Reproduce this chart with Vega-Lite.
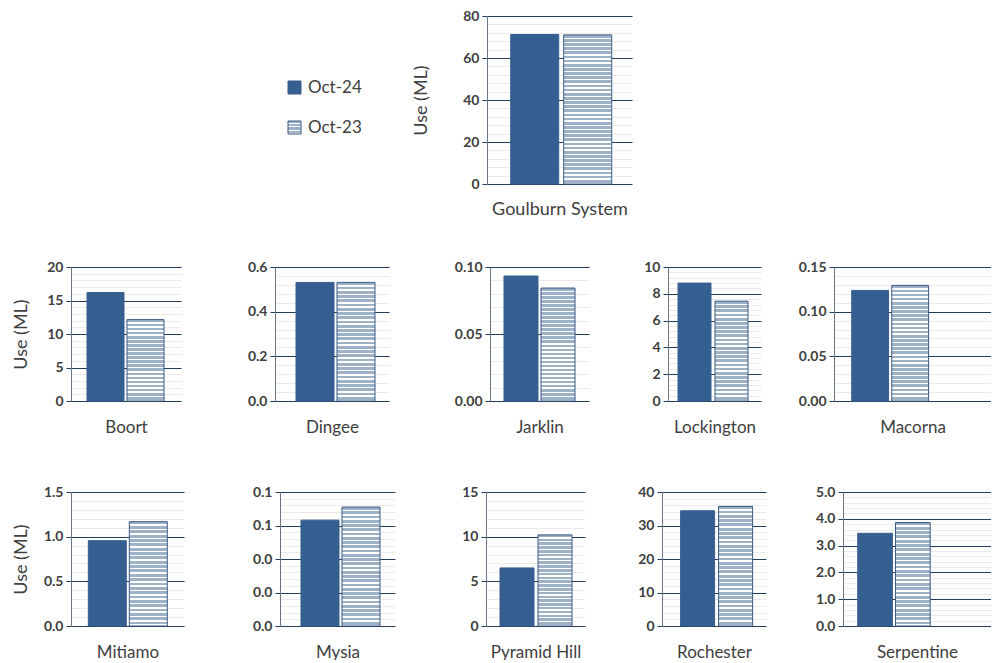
{
"$schema": "https://vega.github.io/schema/vega-lite/v6.json",
"padding": {"left": 12, "top": 9, "right": 0, "bottom": 0},
"background": "white",
"params": [
{"name": "g4", "value": {"gradient": "linear", "x1": 0, "y1": 0, "x2": 0, "y2": 1, "stops": [
{"offset":0,"color":"#9db1c7"},{"offset":0.1625,"color":"#9db1c7"},{"offset":0.1625,"color":"#fff"},{"offset":0.25,"color":"#fff"},
{"offset":0.25,"color":"#9db1c7"},{"offset":0.4125,"color":"#9db1c7"},{"offset":0.4125,"color":"#fff"},{"offset":0.5,"color":"#fff"},
{"offset":0.5,"color":"#9db1c7"},{"offset":0.6625,"color":"#9db1c7"},{"offset":0.6625,"color":"#fff"},{"offset":0.75,"color":"#fff"},
{"offset":0.75,"color":"#9db1c7"},{"offset":0.9125,"color":"#9db1c7"},{"offset":0.9125,"color":"#fff"},{"offset":1,"color":"#fff"}]}},
{"name": "g20", "value": {"gradient": "linear", "x1": 0, "y1": 0, "x2": 0, "y2": 1, "stops": [
{"offset":0,"color":"#9db1c7"},{"offset":0.0325,"color":"#9db1c7"},{"offset":0.0325,"color":"#fff"},{"offset":0.05,"color":"#fff"},
{"offset":0.05,"color":"#9db1c7"},{"offset":0.0825,"color":"#9db1c7"},{"offset":0.0825,"color":"#fff"},{"offset":0.1,"color":"#fff"},
{"offset":0.1,"color":"#9db1c7"},{"offset":0.1325,"color":"#9db1c7"},{"offset":0.1325,"color":"#fff"},{"offset":0.15,"color":"#fff"},
{"offset":0.15,"color":"#9db1c7"},{"offset":0.1825,"color":"#9db1c7"},{"offset":0.1825,"color":"#fff"},{"offset":0.2,"color":"#fff"},
{"offset":0.2,"color":"#9db1c7"},{"offset":0.2325,"color":"#9db1c7"},{"offset":0.2325,"color":"#fff"},{"offset":0.25,"color":"#fff"},
{"offset":0.25,"color":"#9db1c7"},{"offset":0.2825,"color":"#9db1c7"},{"offset":0.2825,"color":"#fff"},{"offset":0.3,"color":"#fff"},
{"offset":0.3,"color":"#9db1c7"},{"offset":0.3325,"color":"#9db1c7"},{"offset":0.3325,"color":"#fff"},{"offset":0.35,"color":"#fff"},
{"offset":0.35,"color":"#9db1c7"},{"offset":0.3825,"color":"#9db1c7"},{"offset":0.3825,"color":"#fff"},{"offset":0.4,"color":"#fff"},
{"offset":0.4,"color":"#9db1c7"},{"offset":0.4325,"color":"#9db1c7"},{"offset":0.4325,"color":"#fff"},{"offset":0.45,"color":"#fff"},
{"offset":0.45,"color":"#9db1c7"},{"offset":0.4825,"color":"#9db1c7"},{"offset":0.4825,"color":"#fff"},{"offset":0.5,"color":"#fff"},
{"offset":0.5,"color":"#9db1c7"},{"offset":0.5325,"color":"#9db1c7"},{"offset":0.5325,"color":"#fff"},{"offset":0.55,"color":"#fff"},
{"offset":0.55,"color":"#9db1c7"},{"offset":0.5825,"color":"#9db1c7"},{"offset":0.5825,"color":"#fff"},{"offset":0.6,"color":"#fff"},
{"offset":0.6,"color":"#9db1c7"},{"offset":0.6325,"color":"#9db1c7"},{"offset":0.6325,"color":"#fff"},{"offset":0.65,"color":"#fff"},
{"offset":0.65,"color":"#9db1c7"},{"offset":0.6825,"color":"#9db1c7"},{"offset":0.6825,"color":"#fff"},{"offset":0.7,"color":"#fff"},
{"offset":0.7,"color":"#9db1c7"},{"offset":0.7325,"color":"#9db1c7"},{"offset":0.7325,"color":"#fff"},{"offset":0.75,"color":"#fff"},
{"offset":0.75,"color":"#9db1c7"},{"offset":0.7825,"color":"#9db1c7"},{"offset":0.7825,"color":"#fff"},{"offset":0.8,"color":"#fff"},
{"offset":0.8,"color":"#9db1c7"},{"offset":0.8325,"color":"#9db1c7"},{"offset":0.8325,"color":"#fff"},{"offset":0.85,"color":"#fff"},
{"offset":0.85,"color":"#9db1c7"},{"offset":0.8825,"color":"#9db1c7"},{"offset":0.8825,"color":"#fff"},{"offset":0.9,"color":"#fff"},
{"offset":0.9,"color":"#9db1c7"},{"offset":0.9325,"color":"#9db1c7"},{"offset":0.9325,"color":"#fff"},{"offset":0.95,"color":"#fff"},
{"offset":0.95,"color":"#9db1c7"},{"offset":0.9825,"color":"#9db1c7"},{"offset":0.9825,"color":"#fff"},{"offset":1,"color":"#fff"}]}},
{"name": "g24", "value": {"gradient": "linear", "x1": 0, "y1": 0, "x2": 0, "y2": 1, "stops": [
{"offset":0,"color":"#9db1c7"},{"offset":0.02708,"color":"#9db1c7"},{"offset":0.02708,"color":"#fff"},{"offset":0.04167,"color":"#fff"},
{"offset":0.04167,"color":"#9db1c7"},{"offset":0.06875,"color":"#9db1c7"},{"offset":0.06875,"color":"#fff"},{"offset":0.08333,"color":"#fff"},
{"offset":0.08333,"color":"#9db1c7"},{"offset":0.11042,"color":"#9db1c7"},{"offset":0.11042,"color":"#fff"},{"offset":0.125,"color":"#fff"},
{"offset":0.125,"color":"#9db1c7"},{"offset":0.15208,"color":"#9db1c7"},{"offset":0.15208,"color":"#fff"},{"offset":0.16667,"color":"#fff"},
{"offset":0.16667,"color":"#9db1c7"},{"offset":0.19375,"color":"#9db1c7"},{"offset":0.19375,"color":"#fff"},{"offset":0.20833,"color":"#fff"},
{"offset":0.20833,"color":"#9db1c7"},{"offset":0.23542,"color":"#9db1c7"},{"offset":0.23542,"color":"#fff"},{"offset":0.25,"color":"#fff"},
{"offset":0.25,"color":"#9db1c7"},{"offset":0.27708,"color":"#9db1c7"},{"offset":0.27708,"color":"#fff"},{"offset":0.29167,"color":"#fff"},
{"offset":0.29167,"color":"#9db1c7"},{"offset":0.31875,"color":"#9db1c7"},{"offset":0.31875,"color":"#fff"},{"offset":0.33333,"color":"#fff"},
{"offset":0.33333,"color":"#9db1c7"},{"offset":0.36042,"color":"#9db1c7"},{"offset":0.36042,"color":"#fff"},{"offset":0.375,"color":"#fff"},
{"offset":0.375,"color":"#9db1c7"},{"offset":0.40208,"color":"#9db1c7"},{"offset":0.40208,"color":"#fff"},{"offset":0.41667,"color":"#fff"},
{"offset":0.41667,"color":"#9db1c7"},{"offset":0.44375,"color":"#9db1c7"},{"offset":0.44375,"color":"#fff"},{"offset":0.45833,"color":"#fff"},
{"offset":0.45833,"color":"#9db1c7"},{"offset":0.48542,"color":"#9db1c7"},{"offset":0.48542,"color":"#fff"},{"offset":0.5,"color":"#fff"},
{"offset":0.5,"color":"#9db1c7"},{"offset":0.52708,"color":"#9db1c7"},{"offset":0.52708,"color":"#fff"},{"offset":0.54167,"color":"#fff"},
{"offset":0.54167,"color":"#9db1c7"},{"offset":0.56875,"color":"#9db1c7"},{"offset":0.56875,"color":"#fff"},{"offset":0.58333,"color":"#fff"},
{"offset":0.58333,"color":"#9db1c7"},{"offset":0.61042,"color":"#9db1c7"},{"offset":0.61042,"color":"#fff"},{"offset":0.625,"color":"#fff"},
{"offset":0.625,"color":"#9db1c7"},{"offset":0.65208,"color":"#9db1c7"},{"offset":0.65208,"color":"#fff"},{"offset":0.66667,"color":"#fff"},
{"offset":0.66667,"color":"#9db1c7"},{"offset":0.69375,"color":"#9db1c7"},{"offset":0.69375,"color":"#fff"},{"offset":0.70833,"color":"#fff"},
{"offset":0.70833,"color":"#9db1c7"},{"offset":0.73542,"color":"#9db1c7"},{"offset":0.73542,"color":"#fff"},{"offset":0.75,"color":"#fff"},
{"offset":0.75,"color":"#9db1c7"},{"offset":0.77708,"color":"#9db1c7"},{"offset":0.77708,"color":"#fff"},{"offset":0.79167,"color":"#fff"},
{"offset":0.79167,"color":"#9db1c7"},{"offset":0.81875,"color":"#9db1c7"},{"offset":0.81875,"color":"#fff"},{"offset":0.83333,"color":"#fff"},
{"offset":0.83333,"color":"#9db1c7"},{"offset":0.86042,"color":"#9db1c7"},{"offset":0.86042,"color":"#fff"},{"offset":0.875,"color":"#fff"},
{"offset":0.875,"color":"#9db1c7"},{"offset":0.90208,"color":"#9db1c7"},{"offset":0.90208,"color":"#fff"},{"offset":0.91667,"color":"#fff"},
{"offset":0.91667,"color":"#9db1c7"},{"offset":0.94375,"color":"#9db1c7"},{"offset":0.94375,"color":"#fff"},{"offset":0.95833,"color":"#fff"},
{"offset":0.95833,"color":"#9db1c7"},{"offset":0.98542,"color":"#9db1c7"},{"offset":0.98542,"color":"#fff"},{"offset":1,"color":"#fff"}]}},
{"name": "g28", "value": {"gradient": "linear", "x1": 0, "y1": 0, "x2": 0, "y2": 1, "stops": [
{"offset":0,"color":"#9db1c7"},{"offset":0.02321,"color":"#9db1c7"},{"offset":0.02321,"color":"#fff"},{"offset":0.03571,"color":"#fff"},
{"offset":0.03571,"color":"#9db1c7"},{"offset":0.05893,"color":"#9db1c7"},{"offset":0.05893,"color":"#fff"},{"offset":0.07143,"color":"#fff"},
{"offset":0.07143,"color":"#9db1c7"},{"offset":0.09464,"color":"#9db1c7"},{"offset":0.09464,"color":"#fff"},{"offset":0.10714,"color":"#fff"},
{"offset":0.10714,"color":"#9db1c7"},{"offset":0.13036,"color":"#9db1c7"},{"offset":0.13036,"color":"#fff"},{"offset":0.14286,"color":"#fff"},
{"offset":0.14286,"color":"#9db1c7"},{"offset":0.16607,"color":"#9db1c7"},{"offset":0.16607,"color":"#fff"},{"offset":0.17857,"color":"#fff"},
{"offset":0.17857,"color":"#9db1c7"},{"offset":0.20179,"color":"#9db1c7"},{"offset":0.20179,"color":"#fff"},{"offset":0.21429,"color":"#fff"},
{"offset":0.21429,"color":"#9db1c7"},{"offset":0.2375,"color":"#9db1c7"},{"offset":0.2375,"color":"#fff"},{"offset":0.25,"color":"#fff"},
{"offset":0.25,"color":"#9db1c7"},{"offset":0.27321,"color":"#9db1c7"},{"offset":0.27321,"color":"#fff"},{"offset":0.28571,"color":"#fff"},
{"offset":0.28571,"color":"#9db1c7"},{"offset":0.30893,"color":"#9db1c7"},{"offset":0.30893,"color":"#fff"},{"offset":0.32143,"color":"#fff"},
{"offset":0.32143,"color":"#9db1c7"},{"offset":0.34464,"color":"#9db1c7"},{"offset":0.34464,"color":"#fff"},{"offset":0.35714,"color":"#fff"},
{"offset":0.35714,"color":"#9db1c7"},{"offset":0.38036,"color":"#9db1c7"},{"offset":0.38036,"color":"#fff"},{"offset":0.39286,"color":"#fff"},
{"offset":0.39286,"color":"#9db1c7"},{"offset":0.41607,"color":"#9db1c7"},{"offset":0.41607,"color":"#fff"},{"offset":0.42857,"color":"#fff"},
{"offset":0.42857,"color":"#9db1c7"},{"offset":0.45179,"color":"#9db1c7"},{"offset":0.45179,"color":"#fff"},{"offset":0.46429,"color":"#fff"},
{"offset":0.46429,"color":"#9db1c7"},{"offset":0.4875,"color":"#9db1c7"},{"offset":0.4875,"color":"#fff"},{"offset":0.5,"color":"#fff"},
{"offset":0.5,"color":"#9db1c7"},{"offset":0.52321,"color":"#9db1c7"},{"offset":0.52321,"color":"#fff"},{"offset":0.53571,"color":"#fff"},
{"offset":0.53571,"color":"#9db1c7"},{"offset":0.55893,"color":"#9db1c7"},{"offset":0.55893,"color":"#fff"},{"offset":0.57143,"color":"#fff"},
{"offset":0.57143,"color":"#9db1c7"},{"offset":0.59464,"color":"#9db1c7"},{"offset":0.59464,"color":"#fff"},{"offset":0.60714,"color":"#fff"},
{"offset":0.60714,"color":"#9db1c7"},{"offset":0.63036,"color":"#9db1c7"},{"offset":0.63036,"color":"#fff"},{"offset":0.64286,"color":"#fff"},
{"offset":0.64286,"color":"#9db1c7"},{"offset":0.66607,"color":"#9db1c7"},{"offset":0.66607,"color":"#fff"},{"offset":0.67857,"color":"#fff"},
{"offset":0.67857,"color":"#9db1c7"},{"offset":0.70179,"color":"#9db1c7"},{"offset":0.70179,"color":"#fff"},{"offset":0.71429,"color":"#fff"},
{"offset":0.71429,"color":"#9db1c7"},{"offset":0.7375,"color":"#9db1c7"},{"offset":0.7375,"color":"#fff"},{"offset":0.75,"color":"#fff"},
{"offset":0.75,"color":"#9db1c7"},{"offset":0.77321,"color":"#9db1c7"},{"offset":0.77321,"color":"#fff"},{"offset":0.78571,"color":"#fff"},
{"offset":0.78571,"color":"#9db1c7"},{"offset":0.80893,"color":"#9db1c7"},{"offset":0.80893,"color":"#fff"},{"offset":0.82143,"color":"#fff"},
{"offset":0.82143,"color":"#9db1c7"},{"offset":0.84464,"color":"#9db1c7"},{"offset":0.84464,"color":"#fff"},{"offset":0.85714,"color":"#fff"},
{"offset":0.85714,"color":"#9db1c7"},{"offset":0.88036,"color":"#9db1c7"},{"offset":0.88036,"color":"#fff"},{"offset":0.89286,"color":"#fff"},
{"offset":0.89286,"color":"#9db1c7"},{"offset":0.91607,"color":"#9db1c7"},{"offset":0.91607,"color":"#fff"},{"offset":0.92857,"color":"#fff"},
{"offset":0.92857,"color":"#9db1c7"},{"offset":0.95179,"color":"#9db1c7"},{"offset":0.95179,"color":"#fff"},{"offset":0.96429,"color":"#fff"},
{"offset":0.96429,"color":"#9db1c7"},{"offset":0.9875,"color":"#9db1c7"},{"offset":0.9875,"color":"#fff"},{"offset":1,"color":"#fff"}]}},
{"name": "g36", "value": {"gradient": "linear", "x1": 0, "y1": 0, "x2": 0, "y2": 1, "stops": [
{"offset":0,"color":"#9db1c7"},{"offset":0.01806,"color":"#9db1c7"},{"offset":0.01806,"color":"#fff"},{"offset":0.02778,"color":"#fff"},
{"offset":0.02778,"color":"#9db1c7"},{"offset":0.04583,"color":"#9db1c7"},{"offset":0.04583,"color":"#fff"},{"offset":0.05556,"color":"#fff"},
{"offset":0.05556,"color":"#9db1c7"},{"offset":0.07361,"color":"#9db1c7"},{"offset":0.07361,"color":"#fff"},{"offset":0.08333,"color":"#fff"},
{"offset":0.08333,"color":"#9db1c7"},{"offset":0.10139,"color":"#9db1c7"},{"offset":0.10139,"color":"#fff"},{"offset":0.11111,"color":"#fff"},
{"offset":0.11111,"color":"#9db1c7"},{"offset":0.12917,"color":"#9db1c7"},{"offset":0.12917,"color":"#fff"},{"offset":0.13889,"color":"#fff"},
{"offset":0.13889,"color":"#9db1c7"},{"offset":0.15694,"color":"#9db1c7"},{"offset":0.15694,"color":"#fff"},{"offset":0.16667,"color":"#fff"},
{"offset":0.16667,"color":"#9db1c7"},{"offset":0.18472,"color":"#9db1c7"},{"offset":0.18472,"color":"#fff"},{"offset":0.19444,"color":"#fff"},
{"offset":0.19444,"color":"#9db1c7"},{"offset":0.2125,"color":"#9db1c7"},{"offset":0.2125,"color":"#fff"},{"offset":0.22222,"color":"#fff"},
{"offset":0.22222,"color":"#9db1c7"},{"offset":0.24028,"color":"#9db1c7"},{"offset":0.24028,"color":"#fff"},{"offset":0.25,"color":"#fff"},
{"offset":0.25,"color":"#9db1c7"},{"offset":0.26806,"color":"#9db1c7"},{"offset":0.26806,"color":"#fff"},{"offset":0.27778,"color":"#fff"},
{"offset":0.27778,"color":"#9db1c7"},{"offset":0.29583,"color":"#9db1c7"},{"offset":0.29583,"color":"#fff"},{"offset":0.30556,"color":"#fff"},
{"offset":0.30556,"color":"#9db1c7"},{"offset":0.32361,"color":"#9db1c7"},{"offset":0.32361,"color":"#fff"},{"offset":0.33333,"color":"#fff"},
{"offset":0.33333,"color":"#9db1c7"},{"offset":0.35139,"color":"#9db1c7"},{"offset":0.35139,"color":"#fff"},{"offset":0.36111,"color":"#fff"},
{"offset":0.36111,"color":"#9db1c7"},{"offset":0.37917,"color":"#9db1c7"},{"offset":0.37917,"color":"#fff"},{"offset":0.38889,"color":"#fff"},
{"offset":0.38889,"color":"#9db1c7"},{"offset":0.40694,"color":"#9db1c7"},{"offset":0.40694,"color":"#fff"},{"offset":0.41667,"color":"#fff"},
{"offset":0.41667,"color":"#9db1c7"},{"offset":0.43472,"color":"#9db1c7"},{"offset":0.43472,"color":"#fff"},{"offset":0.44444,"color":"#fff"},
{"offset":0.44444,"color":"#9db1c7"},{"offset":0.4625,"color":"#9db1c7"},{"offset":0.4625,"color":"#fff"},{"offset":0.47222,"color":"#fff"},
{"offset":0.47222,"color":"#9db1c7"},{"offset":0.49028,"color":"#9db1c7"},{"offset":0.49028,"color":"#fff"},{"offset":0.5,"color":"#fff"},
{"offset":0.5,"color":"#9db1c7"},{"offset":0.51806,"color":"#9db1c7"},{"offset":0.51806,"color":"#fff"},{"offset":0.52778,"color":"#fff"},
{"offset":0.52778,"color":"#9db1c7"},{"offset":0.54583,"color":"#9db1c7"},{"offset":0.54583,"color":"#fff"},{"offset":0.55556,"color":"#fff"},
{"offset":0.55556,"color":"#9db1c7"},{"offset":0.57361,"color":"#9db1c7"},{"offset":0.57361,"color":"#fff"},{"offset":0.58333,"color":"#fff"},
{"offset":0.58333,"color":"#9db1c7"},{"offset":0.60139,"color":"#9db1c7"},{"offset":0.60139,"color":"#fff"},{"offset":0.61111,"color":"#fff"},
{"offset":0.61111,"color":"#9db1c7"},{"offset":0.62917,"color":"#9db1c7"},{"offset":0.62917,"color":"#fff"},{"offset":0.63889,"color":"#fff"},
{"offset":0.63889,"color":"#9db1c7"},{"offset":0.65694,"color":"#9db1c7"},{"offset":0.65694,"color":"#fff"},{"offset":0.66667,"color":"#fff"},
{"offset":0.66667,"color":"#9db1c7"},{"offset":0.68472,"color":"#9db1c7"},{"offset":0.68472,"color":"#fff"},{"offset":0.69444,"color":"#fff"},
{"offset":0.69444,"color":"#9db1c7"},{"offset":0.7125,"color":"#9db1c7"},{"offset":0.7125,"color":"#fff"},{"offset":0.72222,"color":"#fff"},
{"offset":0.72222,"color":"#9db1c7"},{"offset":0.74028,"color":"#9db1c7"},{"offset":0.74028,"color":"#fff"},{"offset":0.75,"color":"#fff"},
{"offset":0.75,"color":"#9db1c7"},{"offset":0.76806,"color":"#9db1c7"},{"offset":0.76806,"color":"#fff"},{"offset":0.77778,"color":"#fff"},
{"offset":0.77778,"color":"#9db1c7"},{"offset":0.79583,"color":"#9db1c7"},{"offset":0.79583,"color":"#fff"},{"offset":0.80556,"color":"#fff"},
{"offset":0.80556,"color":"#9db1c7"},{"offset":0.82361,"color":"#9db1c7"},{"offset":0.82361,"color":"#fff"},{"offset":0.83333,"color":"#fff"},
{"offset":0.83333,"color":"#9db1c7"},{"offset":0.85139,"color":"#9db1c7"},{"offset":0.85139,"color":"#fff"},{"offset":0.86111,"color":"#fff"},
{"offset":0.86111,"color":"#9db1c7"},{"offset":0.87917,"color":"#9db1c7"},{"offset":0.87917,"color":"#fff"},{"offset":0.88889,"color":"#fff"},
{"offset":0.88889,"color":"#9db1c7"},{"offset":0.90694,"color":"#9db1c7"},{"offset":0.90694,"color":"#fff"},{"offset":0.91667,"color":"#fff"},
{"offset":0.91667,"color":"#9db1c7"},{"offset":0.93472,"color":"#9db1c7"},{"offset":0.93472,"color":"#fff"},{"offset":0.94444,"color":"#fff"},
{"offset":0.94444,"color":"#9db1c7"},{"offset":0.9625,"color":"#9db1c7"},{"offset":0.9625,"color":"#fff"},{"offset":0.97222,"color":"#fff"},
{"offset":0.97222,"color":"#9db1c7"},{"offset":0.99028,"color":"#9db1c7"},{"offset":0.99028,"color":"#fff"},{"offset":1,"color":"#fff"}]}}
],
"datasets": {"use": [
{"Region":"Goulburn System","Year":"Oct-24","Use":71.2},{"Region":"Goulburn System","Year":"Oct-23","Use":71.0},
{"Region":"Boort","Year":"Oct-24","Use":16.2},{"Region":"Boort","Year":"Oct-23","Use":12.15},
{"Region":"Dingee","Year":"Oct-24","Use":0.531},{"Region":"Dingee","Year":"Oct-23","Use":0.531},
{"Region":"Jarklin","Year":"Oct-24","Use":0.0933},{"Region":"Jarklin","Year":"Oct-23","Use":0.0843},
{"Region":"Lockington","Year":"Oct-24","Use":8.8},{"Region":"Lockington","Year":"Oct-23","Use":7.45},
{"Region":"Macorna","Year":"Oct-24","Use":0.1238},{"Region":"Macorna","Year":"Oct-23","Use":0.1294},
{"Region":"Mitiamo","Year":"Oct-24","Use":0.955},{"Region":"Mitiamo","Year":"Oct-23","Use":1.168},
{"Region":"Mysia","Year":"Oct-24","Use":0.0632},{"Region":"Mysia","Year":"Oct-23","Use":0.071},
{"Region":"Pyramid Hill","Year":"Oct-24","Use":6.5},{"Region":"Pyramid Hill","Year":"Oct-23","Use":10.2},
{"Region":"Rochester","Year":"Oct-24","Use":34.4},{"Region":"Rochester","Year":"Oct-23","Use":35.7},
{"Region":"Serpentine","Year":"Oct-24","Use":3.46},{"Region":"Serpentine","Year":"Oct-23","Use":3.86}
]},
"config": {
"view": {"stroke": null},
"font": "Lato",
"axis": {"labelFont": "Lato", "titleFont": "Lato", "titleFontWeight": "normal", "titleColor": "#404040", "labelColor": "#404040"},
"axisY": {"labelFontSize": 14, "labelFontWeight": "bold", "labelPadding": 3, "tickSize": 5, "tickCount": 100, "domainColor": "#6b7785", "titleFontSize": 18, "labelOverlap": false, "gridWidth": 1},
"axisX": {"labels": false, "ticks": false, "domain": false, "grid": false, "titleFontSize": 17, "titlePadding": 18}
},
"spacing": 42,
"vconcat": [
{"hconcat": [
 {"width": 341, "height": 168,
  "data": {"name": "use"},
  "transform": [{"filter": "datum.Region === 'none'"}],
  "mark": {"type": "square", "opacity": 1},
  "encoding": {"fill": {"field": "Year", "type": "nominal",
    "scale": {"domain": ["Oct-24", "Oct-23"], "range": ["#365F91", {"expr": "g4"}]},
    "legend": {"orient": "none", "legendX": 215, "legendY": 63, "title": null, "padding": 0,
      "symbolType": "square", "symbolSize": 169, "symbolStrokeWidth": 1, "symbolStrokeColor": "#3B5B82", "symbolOpacity": 1,
      "labelFontSize": 17, "labelFont": "Lato", "labelColor": "#404040",
      "labelOffset": 5, "rowPadding": 22}}}
 },
 {"width": 145, "height": 168,
  "data": {"name": "use"},
  "transform": [{"filter": "datum.Region === 'Goulburn System'"}],
  "mark": {"type": "bar", "fill": {"expr": "datum.Year === 'Oct-23' ? g36 : '#365F91'"}, "stroke": {"expr": "datum.Year === 'Oct-23' ? '#3B5B82' : '#365F91'"}, "strokeWidth": 1},
  "encoding": {
   "x": {"field": "Year", "type": "nominal", "sort": ["Oct-24", "Oct-23"], "scale": {"paddingInner": 0.0943, "paddingOuter": 0.415, "align": 0.539}, "axis": {"title": "Goulburn System", "titlePadding": 16, "titleFontSize": 18}},
   "y": {"field": "Use", "type": "quantitative", "scale": {"domain": [0, 80], "nice": false},
    "axis": {"title": "Use  (ML)", "titlePadding": 12, "minExtent": 45, "format": "d",
     "values": [0,4,8,12,16,20,24,28,32,36,40,44,48,52,56,60,64,68,72,76,80],
     "labelExpr": "indexof([0,20,40,60,80], datum.value) >= 0 ? datum.label : ''",
     "gridColor": {"condition": {"test": "indexof([0,20,40,60,80], datum.value) >= 0", "value": "#253d5c"}, "value": "#ebebeb"},
     "tickColor": {"condition": {"test": "indexof([0,20,40,60,80], datum.value) >= 0", "value": "#253d5c"}, "value": "transparent"}}}
  }
 }
], "spacing": 0, "resolve": {"scale": {"fill": "independent"}, "legend": {"fill": "independent"}}},
{"spacing": 50, "vconcat": [
{"spacing": 0, "hconcat": [
 {"width": 110, "height": 134, "data": {"name": "use"}, "transform": [{"filter": "datum.Region === 'Boort'"}],
  "mark": {"type": "bar", "fill": {"expr": "datum.Year === 'Oct-23' ? g20 : '#365F91'"}, "stroke": {"expr": "datum.Year === 'Oct-23' ? '#3B5B82' : '#365F91'"}, "strokeWidth": 1},
  "encoding": {
   "x": {"field": "Year", "type": "nominal", "sort": ["Oct-24", "Oct-23"], "scale": {"paddingInner": 0.075, "paddingOuter": 0.4125, "align": 0.485}, "axis": {"title": "Boort"}},
   "y": {"field": "Use", "type": "quantitative", "scale": {"domain": [0, 20], "nice": false},
    "axis": {"title": "Use (ML)", "titlePadding": 6, "minExtent": 35, "format": "d",
     "values": [0,1,2,3,4,5,6,7,8,9,10,11,12,13,14,15,16,17,18,19,20],
     "labelExpr": "indexof([0,5,10,15,20], datum.value) >= 0 ? datum.label : ''",
     "gridColor": {"condition": {"test": "indexof([0,5,10,15,20], datum.value) >= 0", "value": "#253d5c"}, "value": "#ebebeb"},
     "tickColor": {"condition": {"test": "indexof([0,5,10,15,20], datum.value) >= 0", "value": "#253d5c"}, "value": "transparent"}}}}},
 {"width": 114, "height": 134, "data": {"name": "use"}, "transform": [{"filter": "datum.Region === 'Dingee'"}],
  "mark": {"type": "bar", "fill": {"expr": "datum.Year === 'Oct-23' ? g28 : '#365F91'"}, "stroke": {"expr": "datum.Year === 'Oct-23' ? '#3B5B82' : '#365F91'"}, "strokeWidth": 1},
  "encoding": {
   "x": {"field": "Year", "type": "nominal", "sort": ["Oct-24", "Oct-23"], "scale": {"paddingInner": 0.0732, "paddingOuter": 0.427, "align": 0.6}, "axis": {"title": "Dingee"}},
   "y": {"field": "Use", "type": "quantitative", "scale": {"domain": [0, 0.6], "nice": false},
    "axis": {"title": null, "minExtent": 94, "format": ".1f",
     "values": [0,0.04,0.08,0.12,0.16,0.2,0.24,0.28,0.32,0.36,0.4,0.44,0.48,0.52,0.56,0.6],
     "labelExpr": "indexof([0,0.2,0.4,0.6], datum.value) >= 0 ? datum.label : ''",
     "gridColor": {"condition": {"test": "indexof([0,0.2,0.4,0.6], datum.value) >= 0", "value": "#253d5c"}, "value": "#ebebeb"},
     "tickColor": {"condition": {"test": "indexof([0,0.2,0.4,0.6], datum.value) >= 0", "value": "#253d5c"}, "value": "transparent"}}}}},
 {"width": 99, "height": 134, "data": {"name": "use"}, "transform": [{"filter": "datum.Region === 'Jarklin'"}],
  "mark": {"type": "bar", "fill": {"expr": "datum.Year === 'Oct-23' ? g28 : '#365F91'"}, "stroke": {"expr": "datum.Year === 'Oct-23' ? '#3B5B82' : '#365F91'"}, "strokeWidth": 1},
  "encoding": {
   "x": {"field": "Year", "type": "nominal", "sort": ["Oct-24", "Oct-23"], "scale": {"paddingInner": 0.0811, "paddingOuter": 0.378, "align": 0.5}, "axis": {"title": "Jarklin"}},
   "y": {"field": "Use", "type": "quantitative", "scale": {"domain": [0, 0.1], "nice": false},
    "axis": {"title": null, "minExtent": 101, "format": ".2f",
     "values": [0,0.01,0.02,0.03,0.04,0.05,0.06,0.07,0.08,0.09,0.1],
     "labelExpr": "indexof([0,0.05,0.1], datum.value) >= 0 ? datum.label : ''",
     "gridColor": {"condition": {"test": "indexof([0,0.05,0.1], datum.value) >= 0", "value": "#253d5c"}, "value": "#ebebeb"},
     "tickColor": {"condition": {"test": "indexof([0,0.05,0.1], datum.value) >= 0", "value": "#253d5c"}, "value": "transparent"}}}}},
 {"width": 93, "height": 134, "data": {"name": "use"}, "transform": [{"filter": "datum.Region === 'Lockington'"}],
  "mark": {"type": "bar", "fill": {"expr": "datum.Year === 'Oct-23' ? g24 : '#365F91'"}, "stroke": {"expr": "datum.Year === 'Oct-23' ? '#3B5B82' : '#365F91'"}, "strokeWidth": 1},
  "encoding": {
   "x": {"field": "Year", "type": "nominal", "sort": ["Oct-24", "Oct-23"], "scale": {"paddingInner": 0.108, "paddingOuter": 0.311, "align": 0.435}, "axis": {"title": "Lockington"}},
   "y": {"field": "Use", "type": "quantitative", "scale": {"domain": [0, 10], "nice": false},
    "axis": {"title": null, "minExtent": 79,
     "values": [0,0.4,0.8,1.2,1.6,2,2.4,2.8,3.2,3.6,4,4.4,4.8,5.2,5.6,6,6.4,6.8,7.2,7.6,8,8.4,8.8,9.2,9.6,10],
     "labelExpr": "indexof([0,2,4,6,8,10], datum.value) >= 0 ? format(datum.value, 'd') : ''",
     "gridColor": {"condition": {"test": "indexof([0,2,4,6,8,10], datum.value) >= 0", "value": "#253d5c"}, "value": "#ebebeb"},
     "tickColor": {"condition": {"test": "indexof([0,2,4,6,8,10], datum.value) >= 0", "value": "#253d5c"}, "value": "transparent"}}}}},
 {"width": 157, "height": 134, "data": {"name": "use"}, "transform": [{"filter": "datum.Region === 'Macorna'"}],
  "mark": {"type": "bar", "fill": {"expr": "datum.Year === 'Oct-23' ? g28 : '#365F91'"}, "stroke": {"expr": "datum.Year === 'Oct-23' ? '#3B5B82' : '#365F91'"}, "strokeWidth": 1},
  "encoding": {
   "x": {"field": "Year", "type": "nominal", "sort": ["Oct-24", "Oct-23"], "scale": {"paddingInner": 0.0811, "paddingOuter": 1.162, "align": 0.221}, "axis": {"title": "Macorna"}},
   "y": {"field": "Use", "type": "quantitative", "scale": {"domain": [0, 0.15], "nice": false},
    "axis": {"title": null, "minExtent": 73, "format": ".2f",
     "values": [0,0.01,0.02,0.03,0.04,0.05,0.06,0.07,0.08,0.09,0.1,0.11,0.12,0.13,0.14,0.15],
     "labelExpr": "indexof([0,0.05,0.1,0.15], datum.value) >= 0 ? datum.label : ''",
     "gridColor": {"condition": {"test": "indexof([0,0.05,0.1,0.15], datum.value) >= 0", "value": "#253d5c"}, "value": "#ebebeb"},
     "tickColor": {"condition": {"test": "indexof([0,0.05,0.1,0.15], datum.value) >= 0", "value": "#253d5c"}, "value": "transparent"}}}}}
]},
{"spacing": 0, "hconcat": [
 {"width": 113, "height": 134, "data": {"name": "use"}, "transform": [{"filter": "datum.Region === 'Mitiamo'"}],
  "mark": {"type": "bar", "fill": {"expr": "datum.Year === 'Oct-23' ? g24 : '#365F91'"}, "stroke": {"expr": "datum.Year === 'Oct-23' ? '#3B5B82' : '#365F91'"}, "strokeWidth": 1},
  "encoding": {
   "x": {"field": "Year", "type": "nominal", "sort": ["Oct-24", "Oct-23"], "scale": {"paddingInner": 0.0732, "paddingOuter": 0.415, "align": 0.509}, "axis": {"title": "Mitiamo"}},
   "y": {"field": "Use", "type": "quantitative", "scale": {"domain": [0, 1.5], "nice": false},
    "axis": {"title": "Use (ML)", "titlePadding": 6, "minExtent": 35, "format": ".1f",
     "values": [0,0.1,0.2,0.3,0.4,0.5,0.6,0.7,0.8,0.9,1,1.1,1.2,1.3,1.4,1.5],
     "labelExpr": "indexof([0,0.5,1,1.5], datum.value) >= 0 ? datum.label : ''",
     "gridColor": {"condition": {"test": "indexof([0,0.5,1,1.5], datum.value) >= 0", "value": "#253d5c"}, "value": "#ebebeb"},
     "tickColor": {"condition": {"test": "indexof([0,0.5,1,1.5], datum.value) >= 0", "value": "#253d5c"}, "value": "transparent"}}}}},
 {"width": 115, "height": 134, "data": {"name": "use"}, "transform": [{"filter": "datum.Region === 'Mysia'"}],
  "mark": {"type": "bar", "fill": {"expr": "datum.Year === 'Oct-23' ? g28 : '#365F91'"}, "stroke": {"expr": "datum.Year === 'Oct-23' ? '#3B5B82' : '#365F91'"}, "strokeWidth": 1},
  "encoding": {
   "x": {"field": "Year", "type": "nominal", "sort": ["Oct-24", "Oct-23"], "scale": {"paddingInner": 0.0732, "paddingOuter": 0.439, "align": 0.583}, "axis": {"title": "Mysia"}},
   "y": {"field": "Use", "type": "quantitative", "scale": {"domain": [0, 0.08], "nice": false},
    "axis": {"title": null, "minExtent": 96, "format": ".1f",
     "values": [0,0.004,0.008,0.012,0.016,0.02,0.024,0.028,0.032,0.036,0.04,0.044,0.048,0.052,0.056,0.06,0.064,0.068,0.072,0.076,0.08],
     "labelExpr": "indexof([0,0.02,0.04,0.06,0.08], datum.value) >= 0 ? datum.label : ''",
     "gridColor": {"condition": {"test": "indexof([0,0.02,0.04,0.06,0.08], datum.value) >= 0", "value": "#253d5c"}, "value": "#ebebeb"},
     "tickColor": {"condition": {"test": "indexof([0,0.02,0.04,0.06,0.08], datum.value) >= 0", "value": "#253d5c"}, "value": "transparent"}}}}},
 {"width": 99, "height": 134, "data": {"name": "use"}, "transform": [{"filter": "datum.Region === 'Pyramid Hill'"}],
  "mark": {"type": "bar", "fill": {"expr": "datum.Year === 'Oct-23' ? g24 : '#365F91'"}, "stroke": {"expr": "datum.Year === 'Oct-23' ? '#3B5B82' : '#365F91'"}, "strokeWidth": 1},
  "encoding": {
   "x": {"field": "Year", "type": "nominal", "sort": ["Oct-24", "Oct-23"], "scale": {"paddingInner": 0.105, "paddingOuter": 0.355, "align": 0.519}, "axis": {"title": "Pyramid Hill"}},
   "y": {"field": "Use", "type": "quantitative", "scale": {"domain": [0, 15], "nice": false},
    "axis": {"title": null, "minExtent": 91, "format": "d",
     "values": [0,1,2,3,4,5,6,7,8,9,10,11,12,13,14,15],
     "labelExpr": "indexof([0,5,10,15], datum.value) >= 0 ? datum.label : ''",
     "gridColor": {"condition": {"test": "indexof([0,5,10,15], datum.value) >= 0", "value": "#253d5c"}, "value": "#ebebeb"},
     "tickColor": {"condition": {"test": "indexof([0,5,10,15], datum.value) >= 0", "value": "#253d5c"}, "value": "transparent"}}}}},
 {"width": 104, "height": 134, "data": {"name": "use"}, "transform": [{"filter": "datum.Region === 'Rochester'"}],
  "mark": {"type": "bar", "fill": {"expr": "datum.Year === 'Oct-23' ? g28 : '#365F91'"}, "stroke": {"expr": "datum.Year === 'Oct-23' ? '#3B5B82' : '#365F91'"}, "strokeWidth": 1},
  "encoding": {
   "x": {"field": "Year", "type": "nominal", "sort": ["Oct-24", "Oct-23"], "scale": {"paddingInner": 0.105, "paddingOuter": 0.421, "align": 0.581}, "axis": {"title": "Rochester"}},
   "y": {"field": "Use", "type": "quantitative", "scale": {"domain": [0, 40], "nice": false},
    "axis": {"title": null, "minExtent": 77, "format": "d",
     "values": [0,2,4,6,8,10,12,14,16,18,20,22,24,26,28,30,32,34,36,38,40],
     "labelExpr": "indexof([0,10,20,30,40], datum.value) >= 0 ? datum.label : ''",
     "gridColor": {"condition": {"test": "indexof([0,10,20,30,40], datum.value) >= 0", "value": "#253d5c"}, "value": "#ebebeb"},
     "tickColor": {"condition": {"test": "indexof([0,10,20,30,40], datum.value) >= 0", "value": "#253d5c"}, "value": "transparent"}}}}},
 {"width": 148, "height": 134, "data": {"name": "use"}, "transform": [{"filter": "datum.Region === 'Serpentine'"}],
  "mark": {"type": "bar", "fill": {"expr": "datum.Year === 'Oct-23' ? g24 : '#365F91'"}, "stroke": {"expr": "datum.Year === 'Oct-23' ? '#3B5B82' : '#365F91'"}, "strokeWidth": 1},
  "encoding": {
   "x": {"field": "Year", "type": "nominal", "sort": ["Oct-24", "Oct-23"], "scale": {"paddingInner": 0.0811, "paddingOuter": 1.04, "align": 0.195}, "axis": {"title": "Serpentine"}},
   "y": {"field": "Use", "type": "quantitative", "scale": {"domain": [0, 5], "nice": false},
    "axis": {"title": null, "minExtent": 77, "format": ".1f",
     "values": [0,0.2,0.4,0.6,0.8,1,1.2,1.4,1.6,1.8,2,2.2,2.4,2.6,2.8,3,3.2,3.4,3.6,3.8,4,4.2,4.4,4.6,4.8,5],
     "labelExpr": "indexof([0,1,2,3,4,5], datum.value) >= 0 ? datum.label : ''",
     "gridColor": {"condition": {"test": "indexof([0,1,2,3,4,5], datum.value) >= 0", "value": "#253d5c"}, "value": "#ebebeb"},
     "tickColor": {"condition": {"test": "indexof([0,1,2,3,4,5], datum.value) >= 0", "value": "#253d5c"}, "value": "transparent"}}}}}
]}
]}
]
}
